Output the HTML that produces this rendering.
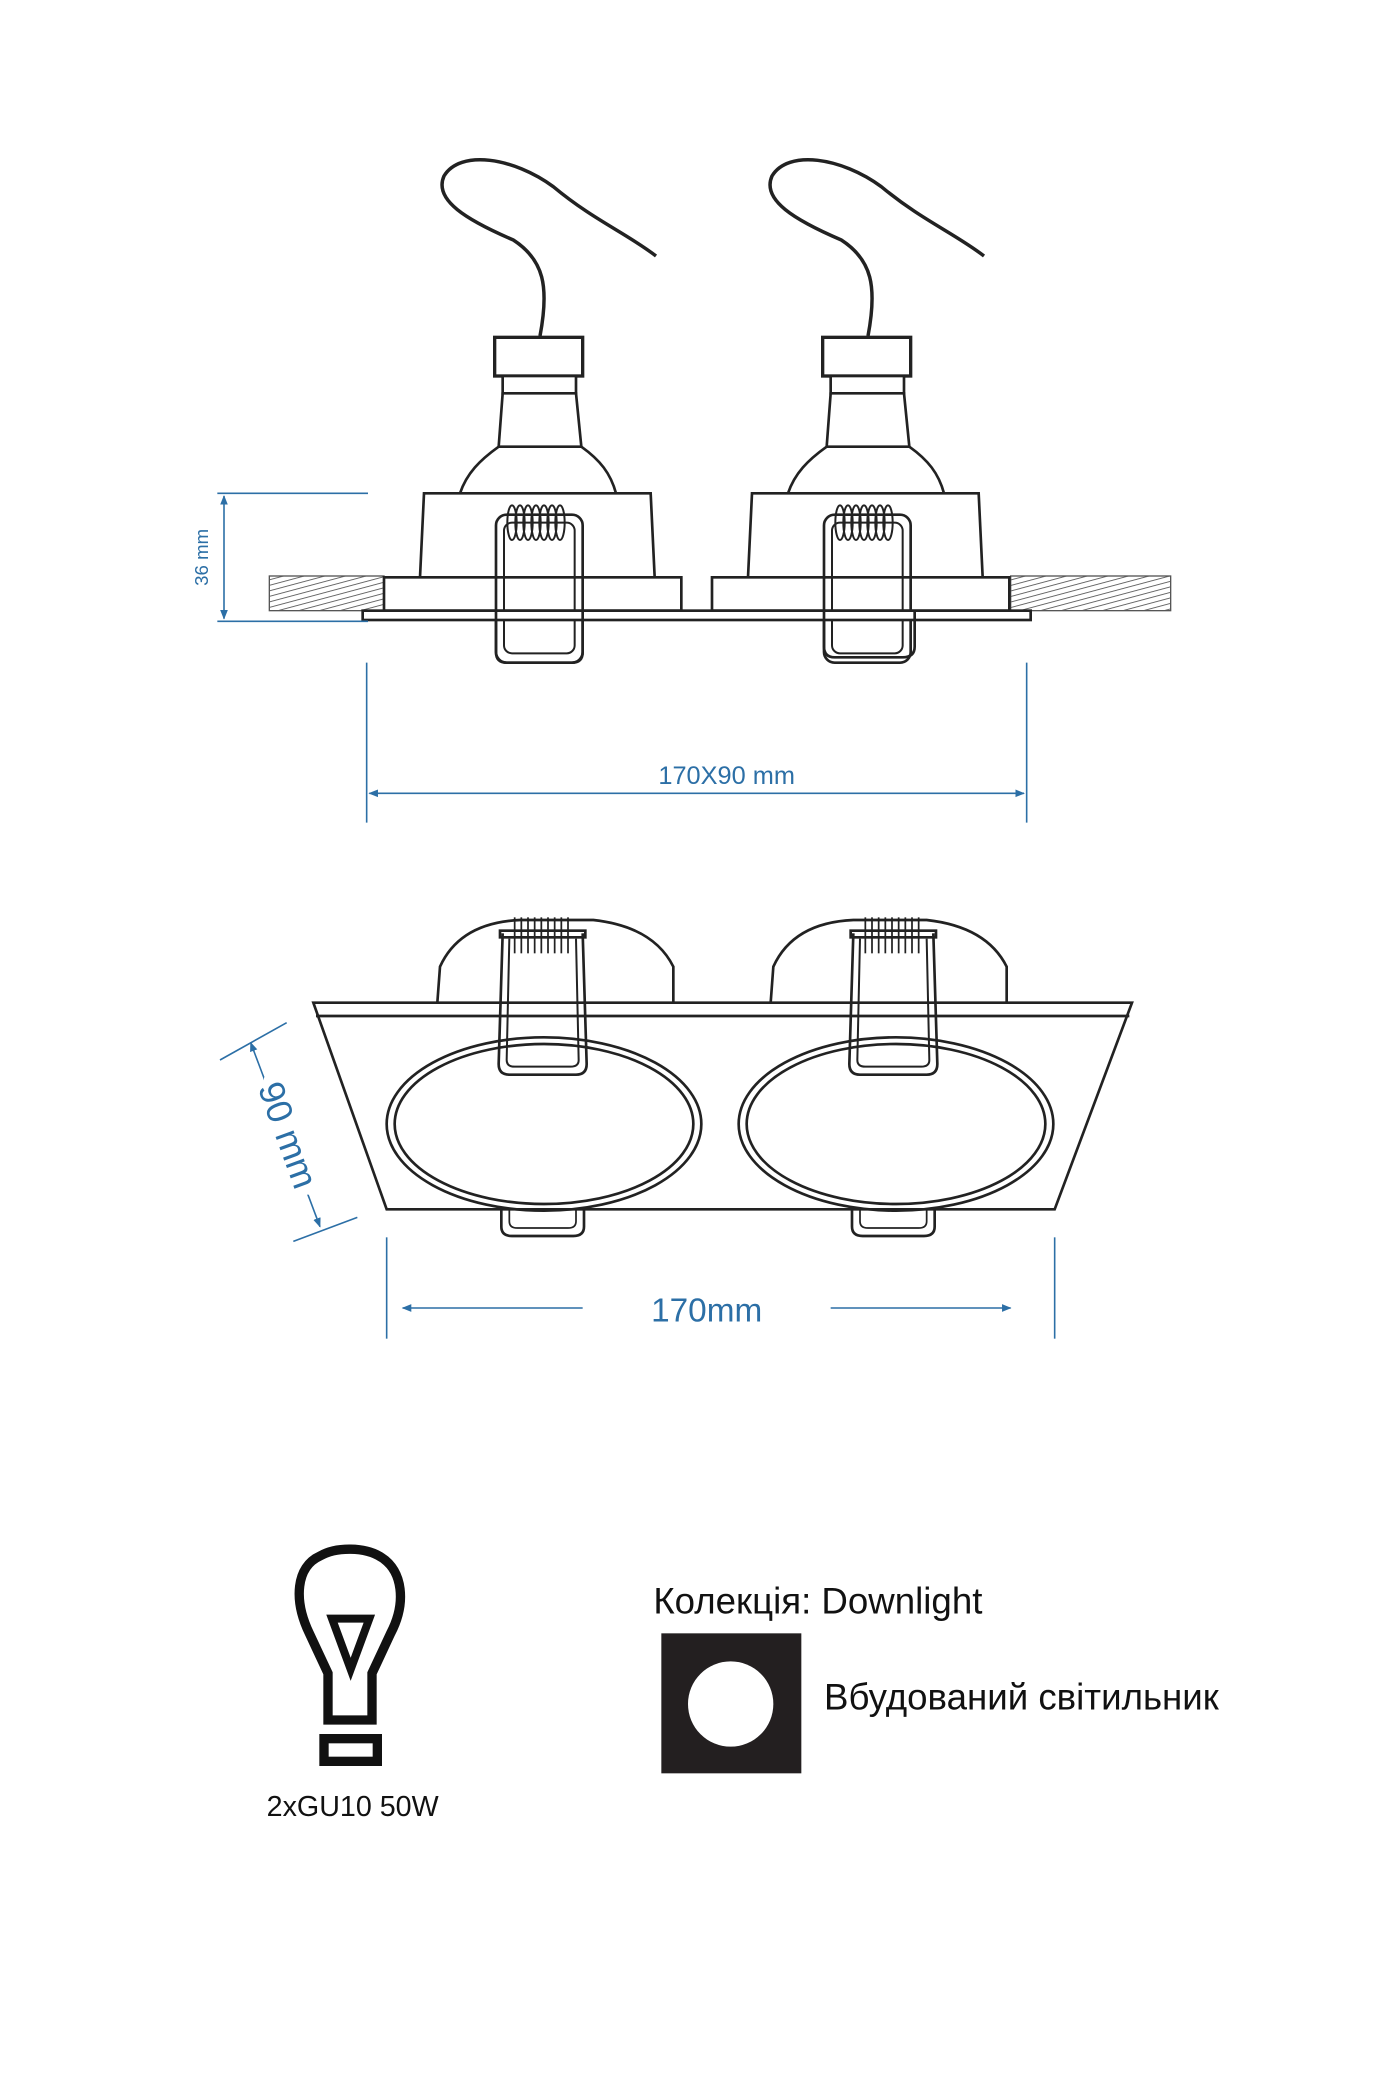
<!DOCTYPE html>
<html><head><meta charset="utf-8"><style>
html,body{margin:0;padding:0;background:#fff;}
svg{display:block;}
</style></head><body>
<svg width="1400" height="2100" viewBox="0 0 1050 1575" xmlns="http://www.w3.org/2000/svg">
<defs>
<pattern id="h" width="4" height="4" patternUnits="userSpaceOnUse" patternTransform="rotate(75)">
<line x1="0" y1="0" x2="0" y2="4" stroke="#555" stroke-width="1.3"/>
</pattern>
<marker id="ar" viewBox="0 0 10 10" refX="9" refY="5" markerWidth="6" markerHeight="6" orient="auto-start-reverse">
<path d="M0,1 L10,5 L0,9 z" fill="#2c6fa6"/>
</marker>
<g id="topunit" fill="none" stroke="#222" stroke-width="2">
<path d="M405,252 C412,215 408,195 385,180 C350,165 325,150 333,132 C345,112 385,118 415,140 C445,165 470,175 492,192" stroke-width="2.6"/>
<rect x="371" y="253" width="66" height="29" fill="#fff" stroke-width="2.5"/>
<rect x="377" y="282" width="55" height="13" fill="#fff"/>
<path d="M377,295 L374,335 L436,335 L432,295 Z" fill="#fff"/>
<path d="M374,335 C360,345 350,355 345,370 M436,335 C450,345 458,355 462,370" />
<path d="M318,370 L488,370 L491,433 L315,433 Z" fill="#fff"/>
<rect x="288" y="433" width="223" height="25" fill="#fff"/>
<rect x="372" y="386" width="65" height="111" rx="8" fill="none"/>
<rect x="378" y="392" width="53" height="98" rx="6" fill="none" stroke-width="1.5"/>
<g stroke-width="1.5">
<ellipse cx="384" cy="392" rx="3.5" ry="13"/><ellipse cx="390" cy="392" rx="3.5" ry="13"/><ellipse cx="396" cy="392" rx="3.5" ry="13"/><ellipse cx="402" cy="392" rx="3.5" ry="13"/><ellipse cx="408" cy="392" rx="3.5" ry="13"/><ellipse cx="414" cy="392" rx="3.5" ry="13"/><ellipse cx="420" cy="392" rx="3.5" ry="13"/>
</g>
</g>
<g id="botunit" fill="none" stroke="#222" stroke-width="2">
<path d="M328,752 L330,725 Q345,692 390,690 L445,690 Q490,695 505,725 L505,752" fill="#fff"/>
</g>
<g id="botclip" fill="none" stroke="#222" stroke-width="2">
<path d="M377,700 L374,798 Q374,806 382,806 L432,806 Q440,806 440,798 L437,700"/>
<path d="M382,704 L380,795 Q380,800 386,800 L428,800 Q434,800 434,795 L432,704" stroke-width="1.5"/>
<g stroke-width="1.3">
<line x1="386" y1="688" x2="386" y2="715"/><line x1="391" y1="688" x2="391" y2="715"/><line x1="396" y1="688" x2="396" y2="715"/><line x1="401" y1="688" x2="401" y2="715"/><line x1="406" y1="688" x2="406" y2="715"/><line x1="411" y1="688" x2="411" y2="715"/><line x1="416" y1="688" x2="416" y2="715"/><line x1="421" y1="688" x2="421" y2="715"/><line x1="426" y1="688" x2="426" y2="715"/>
</g>
<rect x="375" y="698" width="64" height="5"/>
<path d="M376,907 L376,920 Q376,927 384,927 L430,927 Q438,927 438,920 L438,907"/>
<path d="M382,907 L382,916 Q382,921 388,921 L426,921 Q432,921 432,916 L432,907" stroke-width="1.3"/>
</g>
</defs>

<rect x="202" y="432" width="86" height="26" fill="url(#h)" stroke="#555" stroke-width="1"/>
<rect x="758" y="432" width="120" height="26" fill="url(#h)" stroke="#555" stroke-width="1"/>
<use href="#topunit"/>
<use href="#topunit" transform="translate(246,0)"/>
<rect x="272" y="458" width="501" height="7" fill="#fff" stroke="#222" stroke-width="2"/>
<g fill="none" stroke="#222" stroke-width="2">
<path d="M372,458 L372,489 Q372,497 380,497 L429,497 Q437,497 437,489 L437,458"/>
<path d="M618,458 L618,485 Q618,493 626,493 L677,493 Q686,493 686,485 L686,458"/>
</g>

<g stroke="#2c6fa6" stroke-width="1.2" fill="none">
<line x1="163" y1="370" x2="276" y2="370"/>
<line x1="163" y1="466" x2="276" y2="466"/>
<line x1="168" y1="372" x2="168" y2="464" marker-start="url(#ar)" marker-end="url(#ar)"/>
<line x1="275" y1="497" x2="275" y2="617"/>
<line x1="770" y1="497" x2="770" y2="617"/>
<line x1="277" y1="595" x2="768" y2="595" marker-start="url(#ar)" marker-end="url(#ar)"/>
</g>
<text x="156" y="418" transform="rotate(-90 156 418)" font-family="Liberation Sans, sans-serif" font-size="14" fill="#2c6fa6" text-anchor="middle">36 mm</text>
<text x="545" y="588" font-family="Liberation Sans, sans-serif" font-size="19" fill="#2c6fa6" text-anchor="middle">170X90 mm</text>

<use href="#botunit"/>
<use href="#botunit" transform="translate(250,0)"/>
<path d="M235,752 L849,752 L791,907 L290,907 Z" fill="#fff" stroke="#222" stroke-width="2"/>
<line x1="237" y1="762" x2="847" y2="762" stroke="#222" stroke-width="2"/>
<g fill="none" stroke="#222" stroke-width="2">
<ellipse cx="408" cy="843" rx="118" ry="65"/>
<ellipse cx="408" cy="843" rx="112" ry="60"/>
<ellipse cx="672" cy="843" rx="118" ry="65"/>
<ellipse cx="672" cy="843" rx="112" ry="60"/>
</g>
<use href="#botclip"/>
<use href="#botclip" transform="translate(263,0)"/>

<g stroke="#2c6fa6" stroke-width="1.2" fill="none">
<line x1="165" y1="795" x2="215" y2="767"/>
<line x1="220" y1="931" x2="268" y2="913"/>
<line x1="188" y1="782" x2="240" y2="920" marker-start="url(#ar)" marker-end="url(#ar)"/>
<line x1="290" y1="928" x2="290" y2="1004"/>
<line x1="791" y1="928" x2="791" y2="1004"/>
<line x1="437" y1="981" x2="302" y2="981" marker-end="url(#ar)"/>
<line x1="623" y1="981" x2="758" y2="981" marker-end="url(#ar)"/>
</g>
<rect x="198" y="808" width="34" height="88" fill="#fff"/>
<text x="214" y="852" transform="rotate(70 214 852)" font-family="Liberation Sans, sans-serif" font-size="27" fill="#2c6fa6" text-anchor="middle" dominant-baseline="middle">90 mm</text>
<text x="530" y="991" font-family="Liberation Sans, sans-serif" font-size="25" fill="#2c6fa6" text-anchor="middle">170mm</text>

<g fill="none" stroke="#111" stroke-width="7">
<path d="M246,1290 L246,1255 L232,1225 C220,1200 222,1175 240,1167 C252,1160 274,1160 286,1168 C302,1178 305,1202 293,1225 L279,1255 L279,1290 Z" stroke-linejoin="miter"/>
<rect x="243" y="1304" width="40" height="17"/>
<path d="M249,1214 L277,1214 L263,1252 Z" stroke-width="6"/>
</g>
<text x="200" y="1362" font-family="Liberation Sans, sans-serif" font-size="21.5" fill="#111">2xGU10 50W</text>
<text x="490" y="1210" font-family="Liberation Sans, sans-serif" font-size="27.5" fill="#111">Колекція: Downlight</text>
<rect x="496" y="1225" width="105" height="105" fill="#231f20"/>
<circle cx="548" cy="1278" r="32" fill="#fff"/>
<text x="618" y="1282" font-family="Liberation Sans, sans-serif" font-size="27.5" fill="#111">Вбудований світильник</text>
</svg>
</body></html>
